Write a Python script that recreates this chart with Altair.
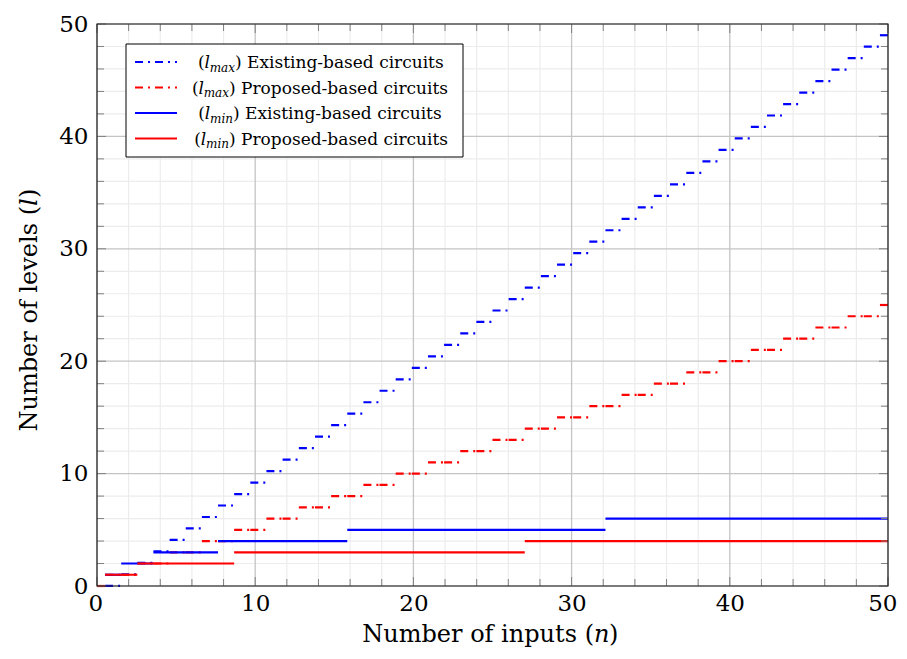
import altair as alt
import pandas as pd

# ---------------- data ----------------
n_samples = [0.00, 1.02, 2.04, 3.06, 4.08, 5.10, 6.12, 7.14, 8.16, 9.18,
             10.20, 11.22, 12.24, 13.27, 14.29, 15.31, 16.33, 17.35, 18.37, 19.39,
             20.41, 21.43, 22.45, 23.47, 24.49, 25.51, 26.53, 27.55, 28.57, 29.59,
             30.61, 31.63, 32.65, 33.67, 34.69, 35.71, 36.73, 37.76, 38.78, 39.80,
             40.82, 41.84, 42.86, 43.88, 44.90, 45.92, 46.94, 47.96, 48.98, 50.00]

lmax_existing = [None, 0.02, 1.04, 2.06, 3.08, 4.10, 5.12, 6.14, 7.16, 8.18,
                 9.20, 10.22, 11.24, 12.27, 13.29, 14.31, 15.33, 16.35, 17.37, 18.39,
                 19.41, 20.43, 21.45, 22.47, 23.49, 24.51, 25.53, 26.55, 27.57, 28.59,
                 29.61, 30.63, 31.65, 32.67, 33.69, 34.71, 35.73, 36.76, 37.78, 38.80,
                 39.82, 40.84, 41.86, 42.88, 43.90, 44.92, 45.94, 46.96, 47.98, 49.00]

lmax_proposed = [0, 1, 1, 2, 2, 3, 3, 4, 4, 5,
                 5, 6, 6, 7, 7, 8, 8, 9, 9, 10,
                 10, 11, 11, 12, 12, 13, 13, 14, 14, 15,
                 15, 16, 16, 17, 17, 18, 18, 19, 19, 20,
                 20, 21, 21, 22, 22, 23, 23, 24, 24, 25]

lmin_existing = [None, 1, 2, 2, 3, 3, 3, 3, 4, 4,
                 4, 4, 4, 4, 4, 4, 5, 5, 5, 5,
                 5, 5, 5, 5, 5, 5, 5, 5, 5, 5,
                 5, 5, 6, 6, 6, 6, 6, 6, 6, 6,
                 6, 6, 6, 6, 6, 6, 6, 6, 6, 6]

lmin_proposed = [None, 1, 1, 2, 2, 2, 2, 2, 2, 3,
                 3, 3, 3, 3, 3, 3, 3, 3, 3, 3,
                 3, 3, 3, 3, 3, 3, 3, 4, 4, 4,
                 4, 4, 4, 4, 4, 4, 4, 4, 4, 4,
                 4, 4, 4, 4, 4, 4, 4, 4, 4, 4]

tick_labels = [0, 10, 20, 30, 40, 50]
minor_ticks = [2, 4, 6, 8, 12, 14, 16, 18, 22, 24, 26, 28, 32, 34, 36, 38, 42, 44, 46, 48]

legend_sub = ["max", "max", "min", "min"]
legend_names = ["Existing-based circuits", "Proposed-based circuits",
                "Existing-based circuits", "Proposed-based circuits"]
x_title = ["Number of inputs (", "n", ")"]
y_title = ["Number of levels (", "l", ")"]

# ---------------- layout / style ----------------
W, H = 791, 562
FONT = "DejaVu Serif"
BLUE, RED = "#0000ff", "#ff0000"
DASH = [8, 5, 2, 5]
LW = 2.2
XMIN, XMAX = 0, 50

XS = alt.Scale(domain=[0, 50], nice=False, zero=False)
YS = alt.Scale(domain=[0, 50], nice=False, zero=False)
AX = alt.Axis(values=tick_labels, title=None, grid=False, ticks=False, tickSize=0,
              domain=False, labelFont=FONT, labelFontSize=23, labelColor="black",
              labelPadding=6, labelFlush=True, labelFlushOffset=9,
              labelOverlap=False, format="d")
AY = alt.Axis(values=tick_labels, title=None, grid=False, ticks=False, tickSize=0,
              domain=False, labelFont=FONT, labelFontSize=23, labelColor="black",
              labelPadding=9, labelFlush=False, labelOverlap=False, format="d")

half = (n_samples[1] - n_samples[0]) / 2


def samples(vals):
    rows = []
    for x, v in zip(n_samples, vals):
        if v is None:
            continue
        rows.append({"x1": max(XMIN, x - half), "x2": min(XMAX, x + half), "y": v})
    return pd.DataFrame(rows)


def merged(vals):
    df = samples(vals)
    rows = []
    for _, r in df.iterrows():
        if rows and rows[-1]["y"] == r["y"]:
            rows[-1]["x2"] = r["x2"]
        else:
            rows.append({"x1": r["x1"], "x2": r["x2"], "y": r["y"]})
    return pd.DataFrame(rows)


layers = []

# grid
vmin = pd.DataFrame({"v": minor_ticks})
vmaj = pd.DataFrame({"v": tick_labels})
for d, col, sw in [(vmin, "#ececec", 1.2), (vmaj, "#c4c4c4", 1.3)]:
    layers.append(alt.Chart(d).mark_rule(color=col, strokeWidth=sw).encode(
        x=alt.X("v:Q", scale=XS, axis=AX), y=alt.value(0), y2=alt.value(H)))
    layers.append(alt.Chart(d).mark_rule(color=col, strokeWidth=sw).encode(
        y=alt.Y("v:Q", scale=YS, axis=AY), x=alt.value(0), x2=alt.value(W)))

# data series
series = [
    (samples(lmax_existing), BLUE, True),
    (samples(lmax_proposed), RED, True),
    (merged(lmin_existing), BLUE, False),
    (merged(lmin_proposed), RED, False),
]
for df, col, dashed in series:
    if dashed:
        mk = alt.Chart(df).mark_rule(color=col, strokeWidth=LW, strokeDash=DASH)
    else:
        mk = alt.Chart(df).mark_rule(color=col, strokeWidth=LW)
    layers.append(mk.encode(x=alt.X("x1:Q", scale=XS, axis=AX), x2="x2:Q",
                            y=alt.Y("y:Q", scale=YS, axis=AY)))

# inward ticks on all four sides
TC = "#808080"
for d, ln in [(vmin, 7), (vmaj, 9)]:
    layers.append(alt.Chart(d).mark_rule(color=TC, strokeWidth=1).encode(
        x=alt.X("v:Q", scale=XS, axis=AX), y=alt.value(H - ln), y2=alt.value(H)))
    layers.append(alt.Chart(d).mark_rule(color=TC, strokeWidth=1).encode(
        x=alt.X("v:Q", scale=XS, axis=AX), y=alt.value(0), y2=alt.value(ln)))
    layers.append(alt.Chart(d).mark_rule(color=TC, strokeWidth=1).encode(
        y=alt.Y("v:Q", scale=YS, axis=AY), x=alt.value(0), x2=alt.value(ln)))
    layers.append(alt.Chart(d).mark_rule(color=TC, strokeWidth=1).encode(
        y=alt.Y("v:Q", scale=YS, axis=AY), x=alt.value(W - ln), x2=alt.value(W)))

one = pd.DataFrame({"a": [0]})
# frame
layers.append(alt.Chart(one).mark_rect(fillOpacity=0, stroke="#222222", strokeWidth=1.2).encode(
    x=alt.value(0), x2=alt.value(W), y=alt.value(0), y2=alt.value(H)))

# legend
layers.append(alt.Chart(one).mark_rect(fill="white", stroke="black", strokeWidth=1).encode(
    x=alt.value(29), x2=alt.value(366), y=alt.value(20), y2=alt.value(133)))
row_y = [38, 63.5, 89, 114.5]
anchor_x = [138, 132, 136, 132]
cols = [BLUE, RED, BLUE, RED]
dashes = [True, True, False, False]
LFS = 17
SFS = 12
sub_w = {"max": 25.0, "min": 22.7}
l_w = 5.4
for i in range(4):
    if dashes[i]:
        mk = alt.Chart(one).mark_rule(color=cols[i], strokeWidth=LW, strokeDash=DASH)
    else:
        mk = alt.Chart(one).mark_rule(color=cols[i], strokeWidth=LW)
    layers.append(mk.encode(x=alt.value(38), x2=alt.value(80), y=alt.value(row_y[i])))
    X = anchor_x[i]
    base = row_y[i] + 6
    pieces = [
        ("(", X - sub_w[legend_sub[i]] - l_w, "right", "normal", LFS, base),
        ("l", X - sub_w[legend_sub[i]], "right", "italic", LFS, base),
        (legend_sub[i], X, "right", "italic", SFS, base + 3.5),
        (") " + legend_names[i], X, "left", "normal", LFS, base),
    ]
    for txt, px, al, st, fs, py in pieces:
        layers.append(alt.Chart(pd.DataFrame({"t": [txt]})).mark_text(
            font=FONT, fontSize=fs, fontStyle=st, align=al, baseline="alphabetic",
            color="black").encode(text="t:N", x=alt.value(px), y=alt.value(py)))

# x axis title
XA = 497
XB = 618
xt = [(x_title[0], XA, "right", "normal"), (x_title[1], XA, "left", "italic"),
      (x_title[2], XA + 15, "left", "normal")]
for txt, px, al, st in xt:
    layers.append(alt.Chart(pd.DataFrame({"t": [txt]})).mark_text(
        font=FONT, fontSize=24, fontStyle=st, align=al, baseline="alphabetic",
        color="black").encode(text="t:N", x=alt.value(px), y=alt.value(XB)))

# y axis title (rotated)
YA = 182
YX = -67
yt = [(y_title[0], YA, "right", "normal"), (y_title[1], YA, "left", "italic"),
      (y_title[2], YA - 8, "left", "normal")]
for txt, py, al, st in yt:
    layers.append(alt.Chart(pd.DataFrame({"t": [txt]})).mark_text(
        font=FONT, fontSize=24, fontStyle=st, align=al, baseline="middle", angle=270,
        color="black").encode(text="t:N", x=alt.value(YX), y=alt.value(py)))

chart = alt.layer(*layers).properties(
    width=W, height=H,
    padding={"left": 89, "top": 16, "right": 10, "bottom": 62},
    autosize=alt.AutoSizeParams(type="none"),
    background="white",
).configure_view(stroke="transparent")

chart.save("out.html", embed_options={"renderer": "svg", "actions": False})
